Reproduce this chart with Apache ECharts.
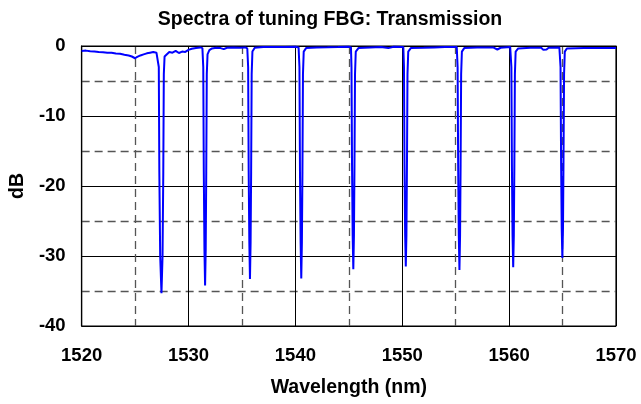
<!DOCTYPE html>
<html>
<head>
<meta charset="utf-8">
<script src="https://cdn.jsdelivr.net/npm/echarts@6/dist/echarts.min.js"></script>
<style>
html,body{margin:0;padding:0;background:#fff;}
#chart{width:641px;height:404px;}
</style>
</head>
<body>
<div id="chart"></div>
<script>
// ---- data ----
const titleText = 'Spectra of tuning FBG: Transmission';
const xName = 'Wavelength (nm)';
const yName = 'dB';
const xTicks = [1520, 1530, 1540, 1550, 1560, 1570];
const yTicks = [-40, -30, -20, -10, 0];

const wavelength = [
  1520.0, 1520.4, 1520.8, 1521.2, 1521.6, 1522.0, 1522.4, 1522.8, 1523.2, 1523.6, 1524.0, 1524.4,
  1524.7, 1525.0, 1525.2, 1525.5, 1525.8, 1526.1, 1526.4, 1526.7, 1527.0, 1527.15,
  1527.22, 1527.27, 1527.35, 1527.47, 1527.57, 1527.64, 1527.69, 1527.76,
  1527.9, 1528.2, 1528.5, 1528.8, 1529.1, 1529.4, 1529.7, 1530.0, 1530.3, 1530.7, 1531.1, 1531.3,
  1531.38, 1531.43, 1531.49, 1531.55, 1531.61, 1531.66, 1531.71, 1531.78,
  1531.95, 1532.2, 1532.6, 1533.0, 1533.3, 1533.6, 1534.2, 1534.8, 1535.3, 1535.5,
  1535.58, 1535.63, 1535.69, 1535.75, 1535.81, 1535.86, 1535.91, 1535.98,
  1536.2, 1537.0, 1538.0, 1539.0, 1540.0, 1540.3,
  1540.38, 1540.43, 1540.49, 1540.55, 1540.61, 1540.66, 1540.71, 1540.78,
  1541.0, 1542.0, 1543.0, 1544.0, 1545.0, 1545.2,
  1545.25, 1545.30, 1545.36, 1545.42, 1545.48, 1545.53, 1545.58, 1545.65,
  1545.9, 1547.0, 1548.0, 1548.7, 1549.2, 1550.1,
  1550.16, 1550.21, 1550.27, 1550.33, 1550.39, 1550.44, 1550.49, 1550.56,
  1550.8, 1552.0, 1553.0, 1554.0, 1555.1,
  1555.18, 1555.23, 1555.29, 1555.35, 1555.41, 1555.46, 1555.51, 1555.58,
  1555.8, 1557.0, 1558.5, 1558.9, 1559.2, 1560.1,
  1560.21, 1560.26, 1560.32, 1560.38, 1560.44, 1560.49, 1560.54, 1560.61,
  1560.85, 1562.0, 1563.0, 1563.2, 1563.5, 1563.7, 1564.7,
  1564.81, 1564.86, 1564.92, 1564.98, 1565.04, 1565.09, 1565.14, 1565.21,
  1565.4, 1567.0, 1570.0
];

const transmission = [
  -0.70, -0.66, -0.74, -0.78, -0.84, -0.88, -0.96, -0.98, -1.08, -1.12, -1.25, -1.36,
  -1.50, -1.75, -1.55, -1.35, -1.20, -1.05, -0.95, -0.85, -0.95, -1.10,
  -3.0, -18.0, -30.0, -35.3, -30.0, -18.0, -4.0, -1.5,
  -1.25, -0.85, -0.95, -0.70, -1.00, -0.80, -0.85, -0.55, -0.40, -0.30, -0.20, -0.30,
  -3.0, -18.0, -29.0, -34.2, -29.0, -18.0, -4.0, -1.2,
  -0.60, -0.35, -0.25, -0.30, -0.45, -0.25, -0.20, -0.25, -0.20, -0.35,
  -3.0, -18.0, -28.0, -33.3, -28.0, -18.0, -4.0, -0.8,
  -0.25, -0.15, -0.15, -0.15, -0.12, -0.20,
  -3.0, -18.0, -28.0, -33.2, -28.0, -18.0, -4.0, -0.8,
  -0.30, -0.20, -0.18, -0.15, -0.10, -0.20,
  -3.0, -17.0, -27.0, -31.9, -27.0, -17.0, -4.0, -0.8,
  -0.30, -0.20, -0.15, -0.30, -0.12, -0.15,
  -3.0, -17.0, -27.0, -31.5, -27.0, -17.0, -4.0, -0.8,
  -0.30, -0.25, -0.20, -0.15, -0.15,
  -3.0, -17.0, -27.0, -32.0, -27.0, -17.0, -4.0, -0.8,
  -0.30, -0.20, -0.20, -0.50, -0.25, -0.15,
  -3.0, -17.0, -27.0, -31.6, -27.0, -17.0, -4.0, -0.8,
  -0.35, -0.25, -0.25, -0.55, -0.50, -0.25, -0.20,
  -3.0, -16.0, -26.0, -30.3, -26.0, -16.0, -4.0, -0.8,
  -0.35, -0.30, -0.30
];

const seriesData = wavelength.map((w, i) => [w, transmission[i]]);

const chart = echarts.init(document.getElementById('chart'), null, {renderer: 'canvas'});
const FONT = '"Liberation Sans", Arial, Helvetica, sans-serif';
const labelStyle = {color: '#000', fontWeight: 'bold', fontSize: 18.5, fontFamily: FONT};
const nameStyle = {color: '#000', fontWeight: 'bold', fontSize: 19.5, fontFamily: FONT};
const dashed = {color: '#555', width: 1.3, type: [8, 5]};

chart.setOption({
  animation: false,
  backgroundColor: '#fff',
  title: {
    text: titleText,
    left: 325,
    textAlign: 'center',
    top: 5,
    textStyle: {color: '#000', fontWeight: 'bold', fontSize: 19.5, fontFamily: FONT}
  },
  grid: {
    left: 80, right: 25, top: 46, bottom: 78,
    show: true, borderColor: '#000', borderWidth: 1.2, backgroundColor: 'transparent'
  },
  xAxis: {
    type: 'value',
    min: xTicks[0], max: xTicks[xTicks.length - 1], interval: 10,
    name: xName, nameLocation: 'middle', nameGap: 52,
    nameTextStyle: nameStyle,
    axisLine: {show: true, lineStyle: {color: '#000', width: 1.2}},
    axisTick: {show: false},
    axisLabel: Object.assign({margin: 20, formatter: v => String(v)}, labelStyle),
    splitLine: {show: true, lineStyle: {color: '#000', width: 1, type: 'solid'}},
    minorTick: {show: false, splitNumber: 2},
    minorSplitLine: {show: true, lineStyle: dashed}
  },
  yAxis: {
    type: 'value',
    min: yTicks[0], max: yTicks[yTicks.length - 1], interval: 10,
    name: yName, nameLocation: 'middle', nameGap: 52, nameRotate: 90,
    nameTextStyle: nameStyle,
    axisLine: {show: true, lineStyle: {color: '#000', width: 1.2}},
    axisTick: {show: false},
    axisLabel: Object.assign({margin: 16, formatter: v => String(v)}, labelStyle),
    splitLine: {show: true, lineStyle: {color: '#000', width: 1, type: 'solid'}},
    minorTick: {show: false, splitNumber: 2},
    minorSplitLine: {show: true, lineStyle: dashed}
  },
  series: [{
    type: 'line',
    data: seriesData,
    showSymbol: false,
    symbol: 'none',
    sampling: null,
    clip: true,
    lineStyle: {color: '#0000ff', width: 2},
    z: 3
  }]
});
</script>
</body>
</html>
